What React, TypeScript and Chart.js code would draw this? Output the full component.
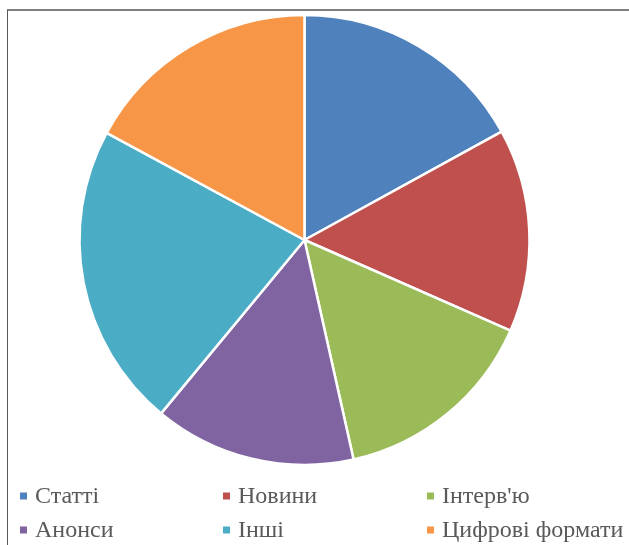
import React, { useEffect, useRef } from "react";
import { Chart, registerables } from "chart.js";

Chart.register(...registerables);

const categories = ["Статті", "Новини", "Інтерв'ю", "Анонси", "Інші", "Цифрові формати"];
const values = [17.0, 14.6, 14.9, 14.5, 21.9, 17.1];
const colors = ["#4F81BD", "#C0504D", "#9BBB59", "#8064A2", "#4BACC6", "#F79646"];

const legendCols = [20, 223, 427];
const legendRows = [496, 530];
const LEGEND_FONT = '24px "Liberation Serif", "Times New Roman", Tinos, serif';

const gridLegend = {
  id: "gridLegend",
  afterDraw(chart: any) {
    const ctx = chart.ctx as CanvasRenderingContext2D;
    ctx.save();
    ctx.font = LEGEND_FONT;
    ctx.textBaseline = "middle";
    ctx.textAlign = "left";
    const labels: string[] = chart.data.labels;
    const bg: string[] = chart.data.datasets[0].backgroundColor;
    labels.forEach((c, i) => {
      const x = legendCols[i % 3];
      const y = legendRows[Math.floor(i / 3)];
      ctx.fillStyle = bg[i];
      ctx.fillRect(x, y - 3.5, 7, 7);
      ctx.fillStyle = "#595959";
      ctx.fillText(c, x + 15, y + 1);
    });
    ctx.restore();
  },
};

export default function App() {
  const canvasRef = useRef<HTMLCanvasElement | null>(null);

  useEffect(() => {
    if (!canvasRef.current) return;
    const chart = new Chart(canvasRef.current, {
      type: "pie",
      data: {
        labels: categories,
        datasets: [
          {
            data: values,
            backgroundColor: colors,
            borderColor: "#ffffff",
            borderWidth: 2.5,
          },
        ],
      },
      options: {
        animation: false,
        responsive: false,
        radius: 225,
        layout: { padding: { left: 0, right: 20, top: 0, bottom: 65 } },
        plugins: {
          legend: { display: false },
          tooltip: { enabled: false },
        },
      } as any,
      plugins: [gridLegend],
    });
    let alive = true;
    if ((document as any).fonts && (document as any).fonts.load) {
      (document as any).fonts.load(LEGEND_FONT, "Статті").then(() => {
        if (alive) chart.draw();
      });
    }
    return () => {
      alive = false;
      chart.destroy();
    };
  }, []);

  return (
    <div style={{ position: "fixed", left: 0, top: 0, width: 629, height: 545, overflow: "hidden", background: "#fff" }}>
      <div
        style={{
          position: "absolute",
          left: 7,
          top: 9,
          width: 800,
          height: 800,
          borderTop: "2px solid #7f7f7f",
          borderLeft: "1px solid #595959",
        }}
      />
      <canvas ref={canvasRef} width={629} height={545} style={{ position: "absolute", left: 0, top: 0 }} />
    </div>
  );
}
